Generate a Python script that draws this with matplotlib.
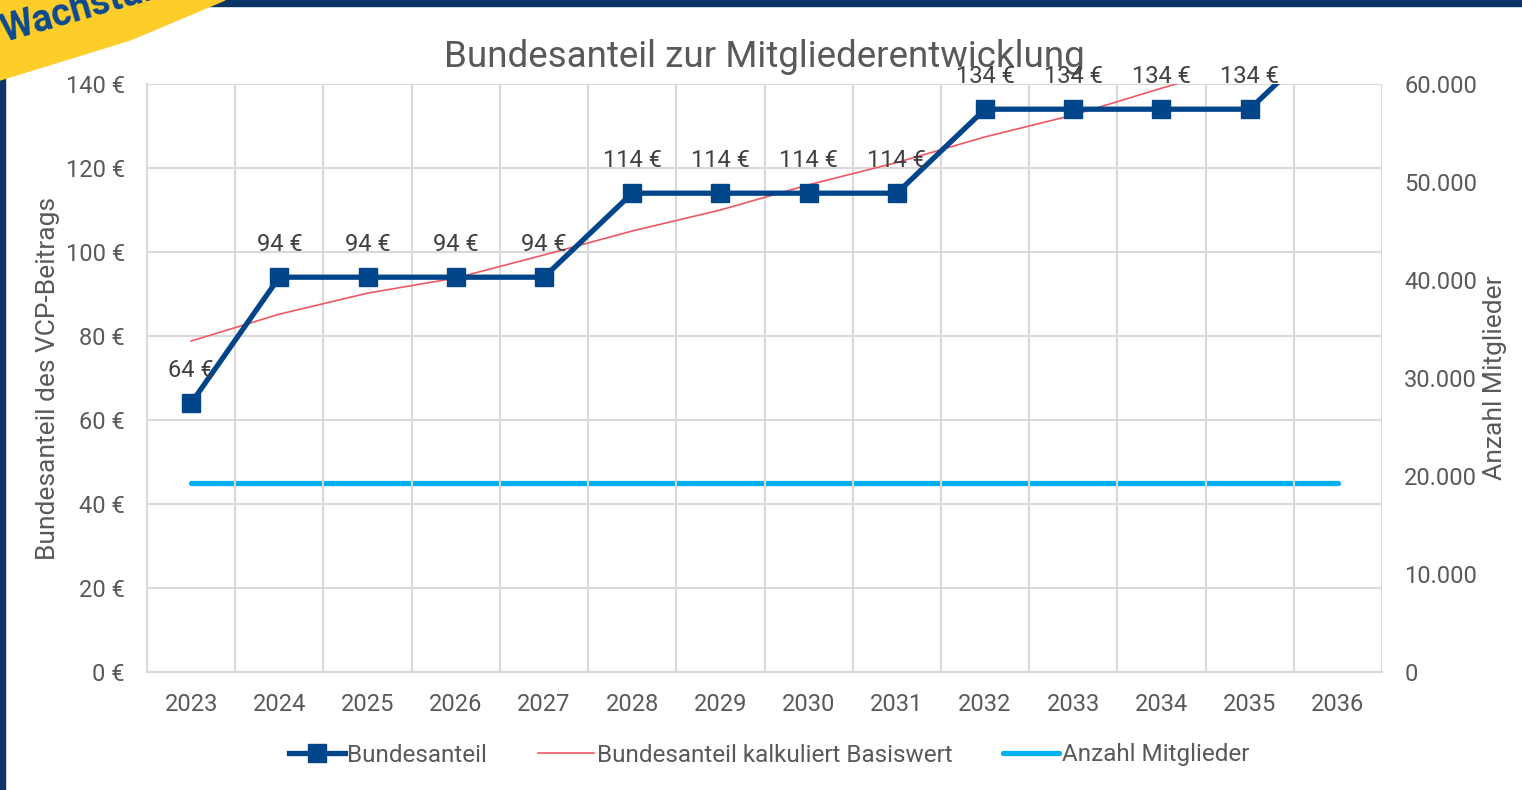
import matplotlib.pyplot as plt
import matplotlib.patches as mpatches
from matplotlib.lines import Line2D
from matplotlib.ticker import FuncFormatter, MultipleLocator

plt.rcParams['font.family'] = ['Roboto', 'DejaVu Sans']

# chart data
years = ['2023', '2024', '2025', '2026', '2027', '2028', '2029',
         '2030', '2031', '2032', '2033', '2034', '2035', '2036']
bundesanteil = [64, 94, 94, 94, 94, 114, 114, 114, 114, 134, 134, 134, 134, 154]
basiswert = [78.8, 85.2, 90.2, 93.8, 99.3, 105.0, 110.0, 116.0,
             121.3, 127.4, 132.6, 139.0, 145.0, 151.0]
mitglieder = [19300] * 14

grey = '#595959'
blue = '#00448A'
red = '#EE5863'
cyan = '#00B0F0'

fig = plt.figure(figsize=(15.22, 7.90), dpi=100)
ax = fig.add_axes([147 / 1522, 118 / 790, 1235 / 1522, 588 / 790])
ax2 = ax.twinx()

x = list(range(len(years)))

ax2.plot(x, mitglieder, color=cyan, lw=3.8, solid_capstyle='round', zorder=2)
ax.plot(x, basiswert, color=red, lw=1.2, zorder=3)
ax.plot(x, bundesanteil, color=blue, lw=3.8, marker='s', markersize=13, zorder=4)
ax.set_zorder(ax2.get_zorder() + 1)
ax.patch.set_visible(False)

# data labels above the points (the clipped 2036 point gets none)
for i, v in enumerate(bundesanteil):
    if v <= 140:
        ax.annotate(f'{v} €', (i, v), xytext=(0, 15), textcoords='offset points',
                    ha='center', va='bottom', fontsize=17, color='#404040',
                    annotation_clip=False, zorder=5)

ax.set_xlim(-0.5, len(years) - 0.5)
ax.set_ylim(0, 140)
ax2.set_ylim(0, 60000)
ax.yaxis.set_major_locator(MultipleLocator(20))
ax2.yaxis.set_major_locator(MultipleLocator(10000))
ax.yaxis.set_major_formatter(FuncFormatter(lambda v, p: f'{int(v)} €'))
ax2.yaxis.set_major_formatter(FuncFormatter(lambda v, p: f'{int(v):,}'.replace(',', '.')))
ax.set_xticks(x)
ax.set_xticklabels(years)
ax.set_xticks([i - 0.5 for i in range(len(years) + 1)], minor=True)

ax.grid(True, axis='y', color='#D9D9D9', lw=1.5)
ax.grid(True, axis='x', which='minor', color='#D9D9D9', lw=1.5)
ax.set_axisbelow(True)
for a in (ax, ax2):
    for s in a.spines.values():
        s.set_visible(False)
for side in ('bottom', 'left'):
    ax.spines[side].set_visible(True)
    ax.spines[side].set_color('#D9D9D9')
    ax.spines[side].set_linewidth(1.5)

ax.tick_params(axis='both', which='both', length=0, labelsize=17, labelcolor=grey)
ax.tick_params(axis='x', pad=15)
ax.tick_params(axis='y', pad=16)
ax2.tick_params(axis='y', length=0, labelsize=17, labelcolor=grey, pad=16)

ax.set_ylabel('Bundesanteil des VCP-Beitrags', fontsize=19, color=grey, labelpad=4)
ax2.set_ylabel('Anzahl Mitglieder', fontsize=19, color=grey, labelpad=4)
ax.set_title('Bundesanteil zur Mitgliederentwicklung', fontsize=26.5, color=grey, pad=12)

handles = [
    Line2D([], [], color=blue, lw=3.8, marker='s', markersize=13),
    Line2D([], [], color=red, lw=1.2),
    Line2D([], [], color=cyan, lw=3.8, solid_capstyle='round'),
]
labels = ['Bundesanteil', 'Bundesanteil kalkuliert Basiswert', 'Anzahl Mitglieder']
fig.legend(handles, labels, loc='center', bbox_to_anchor=(769 / 1522, 1 - 755 / 790),
           ncol=3, frameon=False, fontsize=17.5, labelcolor=grey,
           handlelength=2.3, handletextpad=0.1, columnspacing=2.1)

# page decoration: dark frame and yellow banner in the corner
fig.patches.append(mpatches.Rectangle((0, 0), 5 / 1522, 1, transform=fig.transFigure,
                                      color='#0B3566', zorder=10))
fig.patches.append(mpatches.Rectangle((0, 1 - 6 / 790), 1, 6 / 790, transform=fig.transFigure,
                                      color='#0B3566', zorder=10))
banner = mpatches.Polygon([(0, 1), (225 / 1522, 1), (130 / 1522, 1 - 40 / 790),
                           (0, 1 - 80 / 790)], closed=True, transform=fig.transFigure,
                          color='#FFCD2A', zorder=11)
fig.patches.append(banner)
fig.text(-4 / 1522, 1 - 50 / 790, 'Wachstum', rotation=16, fontsize=27, fontweight='bold',
         color='#0B4A8F', ha='left', va='bottom', zorder=12, clip_path=banner)

fig.savefig('out.png', dpi=100)
